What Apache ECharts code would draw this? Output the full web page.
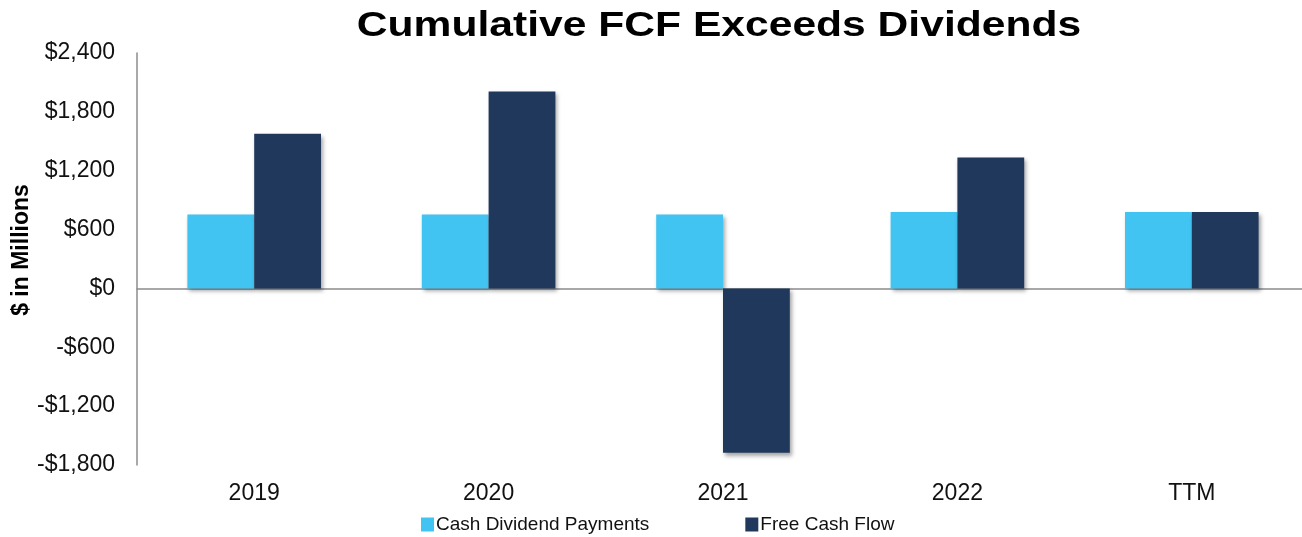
<!DOCTYPE html>
<html><head><meta charset="utf-8">
<script src="https://cdn.jsdelivr.net/npm/echarts@6/dist/echarts.min.js"></script>
<style>html,body{margin:0;padding:0;background:#fff}#c{width:1302px;height:537px}</style>
</head><body><div id="c"></div>
<script>
const categories = ['2019', '2020', '2021', '2022', 'TTM'];
const dividends = [754, 754, 754, 778, 778];
const fcf = [1577, 2008, -1675, 1335, 778];
const yTicks = { min: -1800, max: 2400, interval: 600 };
const seriesNames = ['Cash Dividend Payments', 'Free Cash Flow'];
const titleText = 'Cumulative FCF Exceeds Dividends';

const font = '"Liberation Sans", Arial, Helvetica, sans-serif';
function money(v) {
  const s = '$' + Math.abs(v).toLocaleString('en-US');
  return v < 0 ? '-' + s : s;
}
const chart = echarts.init(document.getElementById('c'));
const shadow = { shadowBlur: 4, shadowOffsetX: 2, shadowOffsetY: 3, shadowColor: 'rgba(0,0,0,0.35)' };
chart.setOption({
  animation: false,
  textStyle: { fontFamily: font },
  graphic: [{
    type: 'text', x: 719, y: 26, scaleX: 1.217,
    style: { text: titleText, fontSize: 35, fontWeight: 'bold', fontFamily: font, fill: '#000',
             align: 'center', verticalAlign: 'middle', textAlign: 'center', textVerticalAlign: 'middle' }
  }],
  legend: {
    data: seriesNames, left: 421, top: 515, itemWidth: 13, itemHeight: 14, itemGap: 96,
    icon: 'rect', padding: 0,
    textStyle: { fontSize: 19, color: '#111', fontFamily: font, padding: [0, 0, 0, -3] }
  },
  grid: { left: 137, top: 53, bottom: 72, width: 1172, containLabel: false, outerBoundsMode: 'none' },
  xAxis: [
    { type: 'category', data: categories, position: 'bottom',
      axisLine: { show: false, onZero: false }, axisTick: { show: false },
      axisLabel: { fontSize: 23, color: '#111', margin: 17, fontFamily: font } },
    { type: 'category', data: categories, position: 'bottom',
      axisLine: { show: true, onZero: true, lineStyle: { color: '#8c8c8c', width: 1.5 } },
      axisTick: { show: false }, axisLabel: { show: false } }
  ],
  yAxis: {
    type: 'value', min: yTicks.min, max: yTicks.max, interval: yTicks.interval,
    name: '$ in Millions', nameLocation: 'middle', nameRotate: 90, nameGap: 104,
    nameMoveOverlap: false,
    nameTextStyle: { fontSize: 23, fontWeight: 'bold', color: '#000', fontFamily: font, padding: [0, 0, 0, 18] },
    axisLine: { show: true, lineStyle: { color: '#8c8c8c', width: 1.5 } },
    axisTick: { show: false }, splitLine: { show: false },
    axisLabel: { fontSize: 23, color: '#111', margin: 22, formatter: money, fontFamily: font }
  },
  series: [
    { name: seriesNames[0], type: 'bar', data: dividends, barGap: '0%', barCategoryGap: '43%',
      itemStyle: Object.assign({ color: '#41C4F2' }, shadow) },
    { name: seriesNames[1], type: 'bar', data: fcf, barGap: '0%', barCategoryGap: '43%',
      itemStyle: Object.assign({ color: '#1F385C' }, shadow) }
  ]
});
</script></body></html>
